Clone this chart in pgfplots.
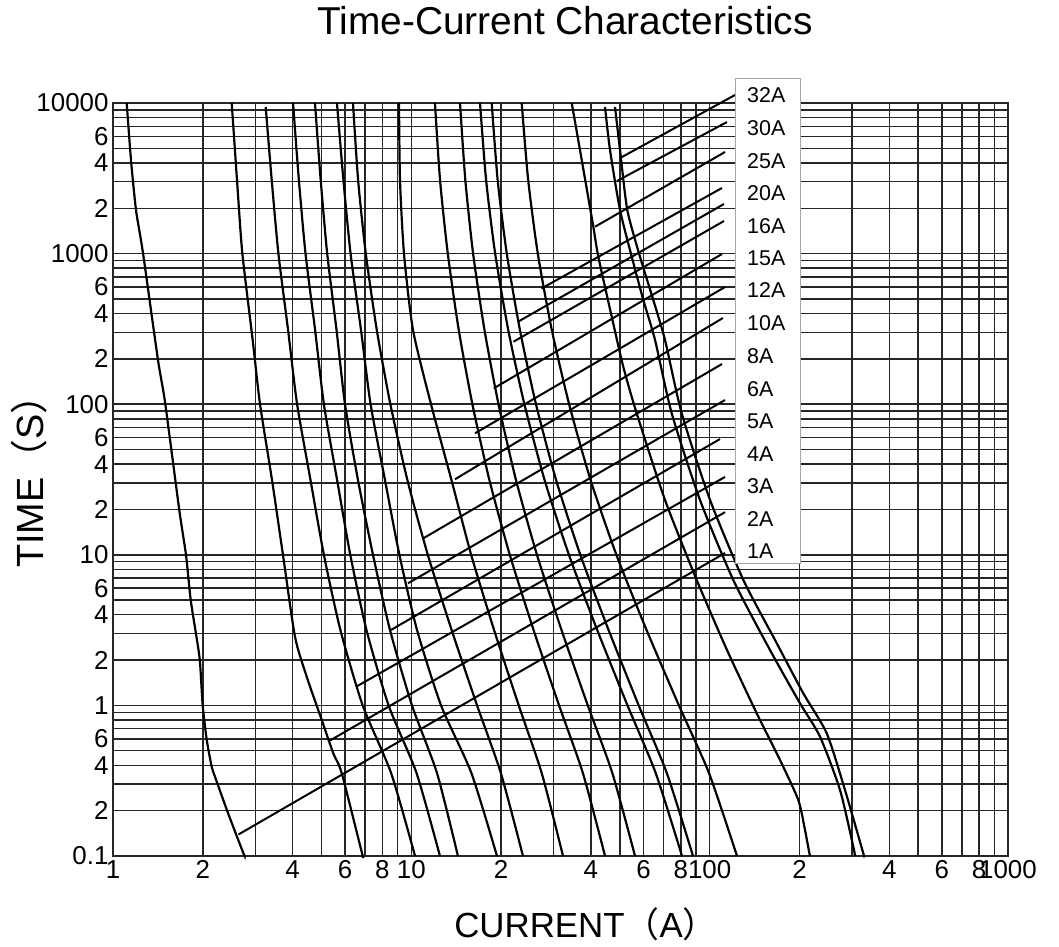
\documentclass[border=0pt]{standalone}
\usepackage{pgfplots}
\pgfplotsset{compat=1.18}
\usepackage{fontspec}
\setmainfont{Liberation Sans}
\newfontfamily\cjk{Noto Sans CJK SC}
\tikzset{curve/.style={black, line width=2.2pt, smooth, tension=0.4, mark=none},
         leader/.style={black, line width=2pt, sharp plot, mark=none}}
\begin{document}
\begin{tikzpicture}
\path[use as bounding box] (-113bp,-91bp) rectangle (946bp,856bp);
\begin{loglogaxis}[
  scale only axis, width=895bp, height=753bp,
  xmin=1, xmax=1000, ymin=0.1, ymax=10000,
  xtick={1,2,4,6,8,10,20,40,60,80,100,200,400,600,800,1000},
  xticklabels={1,2,4,6,8,10,2,4,6,8,100,2,4,6,8,1000},
  minor xtick={3,5,7,9,30,50,70,90,300,500,700,900},
  ytick={0.1,0.2,0.4,0.6,1,2,4,6,10,20,40,60,100,200,400,600,1000,2000,4000,6000,10000},
  yticklabels={0.1,2,4,6,1,2,4,6,10,2,4,6,100,2,4,6,1000,2,4,6,10000},
  minor ytick={0.3,0.5,0.7,0.8,0.9,3,5,7,8,9,30,50,70,80,90,300,500,700,800,900,3000,5000,7000,8000,9000},
  grid=both,
  major grid style={black!85, line width=1.5pt},
  minor grid style={black!85, line width=1.5pt},
  major tick length=0pt, minor tick length=0pt,
  axis line style={black!85, line width=1.5pt},
  tick label style={font=\fontsize{26}{26}\selectfont},
  xticklabel style={yshift=-1bp},
  yticklabel style={xshift=-1bp},
  /pgf/number format/assume math mode=true,
  clip=false,
]
% fuse curves (current in A, time in s)
\addplot[curve] coordinates {(1.1115,10000) (1.149,4182) (1.1943,1948) (1.2605,1009) (1.4151,196.6) (1.4941,103.4) (1.668,19.84) (1.757,9.97) (1.822,5.01) (1.912,2.719) (1.957,1.951) (1.998,1.006) (2.062,0.589) (2.142,0.3917) (2.197,0.3362) (2.429,0.193) (2.734,0.1047) (2.765,0.1)};
\addplot[curve] coordinates {(2.500,10000) (2.604,3082) (2.713,1009) (2.939,266.9) (3.110,100.3) (3.412,31.4) (3.714,9.97) (4.074,2.859) (4.460,1.551) (5.008,0.800) (5.475,0.4808) (5.843,0.3552) (6.833,0.1047) (6.887,0.1)};
\addplot[curve] coordinates {(3.250,9406) (3.404,3082) (3.585,1000) (3.863,311) (4.141,100) (4.592,31.38) (5.092,10) (5.784,3.168) (6.871,1) (8.555,0.3553) (10.29,0.1)};
\addplot[curve] coordinates {(4.013,10000) (4.198,3082) (4.419,1000) (4.758,311) (5.092,100) (5.639,31.38) (6.243,10) (7.074,3.168) (8.391,1) (10.41,0.3553) (12.47,0.1)};
\addplot[curve] coordinates {(4.754,10000) (4.968,3082) (5.224,1000) (5.614,311) (5.994,100) (6.625,31.38) (7.438,10) (8.482,3.168) (10.05,1) (12.19,0.3553) (14.33,0.1)};
\addplot[curve] coordinates {(5.633,10000) (5.920,3082) (6.257,1000) (6.781,311) (7.303,100) (8.160,31.38) (9.120,10) (10.45,3.168) (12.58,1) (15.90,0.3553) (19.37,0.1)};
\addplot[curve] coordinates {(6.375,10000) (6.631,3082) (7.037,1000) (7.661,311) (8.507,100) (9.700,31.38) (11.355,10) (13.65,3.168) (16.61,1) (19.96,0.3553) (23.67,0.1)};
\addplot[curve] coordinates {(9.093,10000) (9.162,3082) (9.449,1000) (10.13,311) (11.64,100) (13.63,31.38) (15.87,10) (18.94,3.168) (22.91,1) (27.35,0.3553) (32.25,0.1)};
\addplot[curve] coordinates {(12.00,10000) (12.48,3082) (13.25,1000) (14.42,311) (16.02,100) (18.27,31.38) (21.38,10) (25.69,3.168) (31.28,1) (37.59,0.3553) (44.60,0.1)};
\addplot[curve] coordinates {(14.56,10000) (15.17,3082) (16.11,1000) (17.59,311) (19.60,100) (22.43,31.38) (26.37,10) (31.87,3.168) (39.04,1) (47.18,0.3553) (56.21,0.1)};
\addplot[curve] coordinates {(16.99,10000) (17.81,3082) (19.10,1000) (21.13,311) (23.93,100) (27.97,31.38) (33.75,10) (41.98,3.168) (53.04,1) (65.94,0.3553) (80.78,0.1)};
\addplot[curve] coordinates {(18.60,10000) (19.47,3082) (20.89,1000) (23.12,311) (26.17,100) (30.57,31.38) (36.85,10) (45.83,3.168) (57.83,1) (71.84,0.3553) (87.93,0.1)};
\addplot[curve] coordinates {(23.44,10000) (24.64,3082) (26.54,1000) (29.57,311) (33.80,100) (39.89,31.38) (48.68,10) (61.44,3.168) (78.87,1) (99.49,0.3553) (123.5,0.1)};
\addplot[curve] coordinates {(34.48,10000) (36.76,4874) (40.74,1509) (42.34,953.7) (46.96,381.1) (51.33,177.4) (56.94,87.0) (70.85,23.12) (90.49,6.803) (114.3,2.333) (143.8,0.8862) (172.1,0.4341) (198.2,0.2353) (208.7,0.1488) (215.8,0.1047) (216.9,0.1)};
\addplot[curve] coordinates {(44.59,9406) (46.34,4874) (50.06,1948) (54.80,953.7) (59.93,491.8) (65.60,266.9) (74.62,87.0) (92.82,23.12) (120.0,6.803) (159.3,2.333) (200.8,1.033) (234.4,0.6197) (273.5,0.2744) (303.0,0.1153) (307.0,0.1)};
\addplot[curve] coordinates {(48.16,9406) (50.06,4874) (52.96,1948) (58.41,953.7) (64.73,491.8) (70.85,266.9) (80.59,87.0) (100.3,23.12) (129.7,6.803) (165.6,2.719) (206.0,1.203) (246.8,0.6528) (284.2,0.2744) (327.3,0.1042) (329.1,0.1)};
% leader lines
\addplot[leader] coordinates {(50.8,4378) (121.6,11300)};
\addplot[leader] coordinates {(48.9,3035) (114.3,7477)};
\addplot[leader] coordinates {(41.3,1509) (112.6,4727)};
\addplot[leader] coordinates {(27.3,586.7) (110,2727)};
\addplot[leader] coordinates {(22.8,353) (111.7,2135)};
\addplot[leader] coordinates {(22.0,260) (111.7,1646)};
\addplot[leader] coordinates {(18.9,127.5) (110,994)};
\addplot[leader] coordinates {(16.35,64.1) (112.6,600)};
\addplot[leader] coordinates {(14.0,31.7) (110.8,373.6)};
\addplot[leader] coordinates {(10.97,12.87) (110,184.9)};
\addplot[leader] coordinates {(9.75,6.47) (112.6,106.6)};
\addplot[leader] coordinates {(8.55,3.17) (108.3,58.7)};
\addplot[leader] coordinates {(6.55,1.335) (112.6,32.9)};
\addplot[leader] coordinates {(5.34,0.585) (112.6,19.2)};
\addplot[leader] coordinates {(2.635,0.139) (112.6,10.28)};
% label box
\draw[black!35, line width=0.8pt, fill=white] (axis cs:121.6,8.82) rectangle (axis cs:201.9,14590);
\begin{scope}[every node/.style={anchor=west, font=\fontsize{21.5}{21.5}\selectfont, inner sep=0pt}]
\node at (axis cs:133.4,11300) {32A};
\node at (axis cs:133.4,6792) {30A};
\node at (axis cs:133.4,4140) {25A};
\node at (axis cs:133.4,2514) {20A};
\node at (axis cs:133.4,1532) {16A};
\node at (axis cs:133.4,930.6) {15A};
\node at (axis cs:133.4,573.3) {12A};
\node at (axis cs:133.4,344.5) {10A};
\node at (axis cs:133.4,209) {8A};
\node at (axis cs:133.4,125.6) {6A};
\node at (axis cs:133.4,76.5) {5A};
\node at (axis cs:133.4,46.7) {4A};
\node at (axis cs:133.4,28.6) {3A};
\node at (axis cs:133.4,17.3) {2A};
\node at (axis cs:133.4,10.6) {1A};
\end{scope}
\end{loglogaxis}
\node[anchor=base, font=\fontsize{39}{39}\selectfont] at (452bp,821bp) {Time-Current Characteristics};
\node[anchor=base, rotate=90, font=\fontsize{38}{38}\selectfont] at (-69bp,384bp) {TIME{\cjk （}S{\cjk ）}};
\node[anchor=base, font=\fontsize{35}{35}\selectfont] at (473bp,-81bp) {CURRENT{\cjk （}A{\cjk ）}};
\end{tikzpicture}
\end{document}
